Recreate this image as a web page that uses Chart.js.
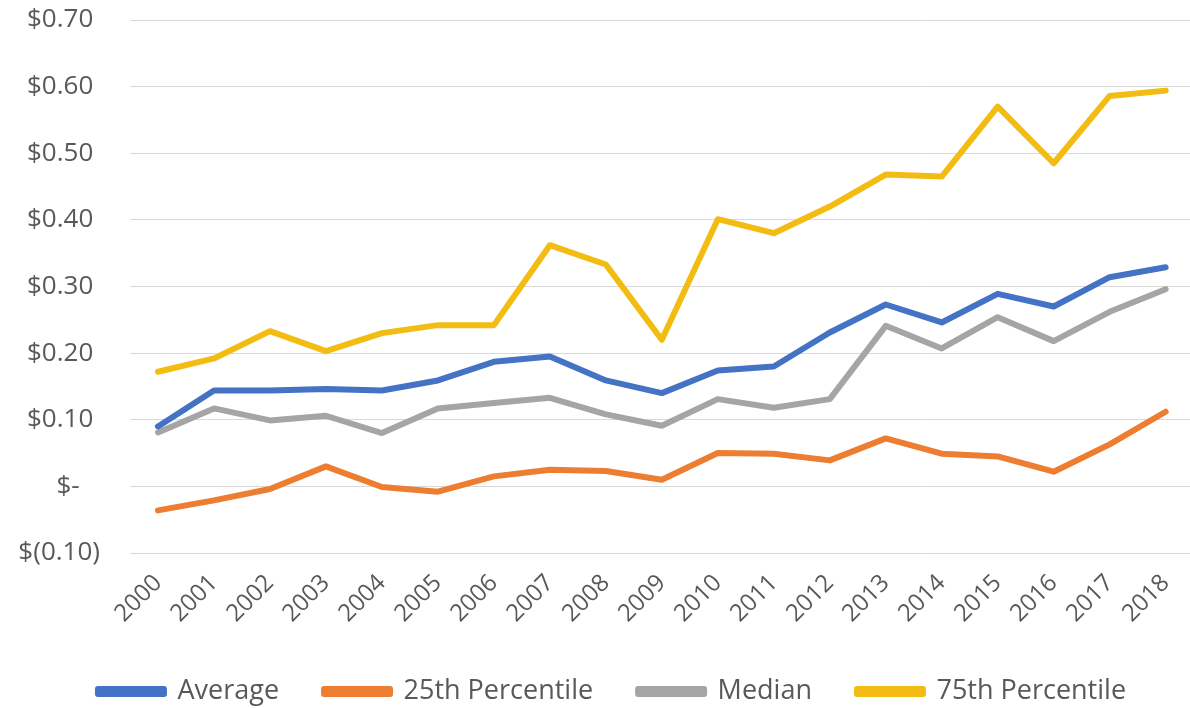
<!DOCTYPE html>
<html>
<head>
<meta charset="utf-8">
<script src="https://cdn.jsdelivr.net/npm/chart.js@4"></script>
<style>
  html, body { margin: 0; padding: 0; background: #fff; overflow: hidden; }
  #wrap { width: 1190px; height: 708px; overflow: hidden; }
  #box  { width: 1194px; height: 708px; position: relative; }
</style>
</head>
<body>
<div id="wrap"><div id="box"><canvas id="priceChart"></canvas></div></div>
<script>
/* ── data ───────────────────────────────────────────────────── */
const years = ["2000", "2001", "2002", "2003", "2004", "2005", "2006", "2007", "2008", "2009",
               "2010", "2011", "2012", "2013", "2014", "2015", "2016", "2017", "2018"];

const average = [0.090, 0.144, 0.144, 0.146, 0.144, 0.159, 0.187, 0.195, 0.159, 0.140,
                 0.174, 0.180, 0.231, 0.273, 0.246, 0.289, 0.270, 0.314, 0.329];
const pct25   = [-0.036, -0.021, -0.004, 0.030, -0.001, -0.008, 0.015, 0.025, 0.023, 0.010,
                 0.050, 0.049, 0.039, 0.072, 0.049, 0.045, 0.022, 0.063, 0.112];
const median  = [0.081, 0.117, 0.099, 0.106, 0.080, 0.117, 0.125, 0.133, 0.108, 0.091,
                 0.131, 0.118, 0.131, 0.241, 0.207, 0.254, 0.218, 0.262, 0.296];
const pct75   = [0.172, 0.192, 0.233, 0.203, 0.230, 0.242, 0.242, 0.362, 0.333, 0.220,
                 0.401, 0.380, 0.420, 0.468, 0.465, 0.570, 0.485, 0.586, 0.594];

const yMin = -0.10, yMax = 0.70, yStep = 0.10;

/* ── accounting-style money labels ─────────────────────────── */
function money(v) {
    if (Math.abs(v) < 1e-9) return "$-   ";
    if (v < 0) return "$(" + Math.abs(v).toFixed(2) + ")";
    return "$" + v.toFixed(2) + " ";
}

const font  = "'Open Sans', 'Noto Sans', sans-serif";
const ink   = "#595959";

function series(label, data, color) {
    return {
        label, data,
        borderColor: color,
        backgroundColor: color,
        borderWidth: 6,
        borderCapStyle: "round",
        borderJoinStyle: "round",
        pointRadius: 0,
        tension: 0,
        fill: false
    };
}

// legend sits a little right of the canvas centre
const legendNudge = {
    id: "legendNudge",
    afterLayout(chart) {
        if (!chart.legend) return;
        chart.legend.left  += 15;
        chart.legend.right += 15;
    }
};

new Chart(document.getElementById("priceChart"), {
    type: "line",
    data: {
        labels: years,
        datasets: [
            series("Average",         average, "#4472C4"),
            series("25th Percentile", pct25,   "#ED7D31"),
            series("Median",          median,  "#A5A5A5"),
            series("75th Percentile", pct75,   "#F2BC12")
        ]
    },
    plugins: [legendNudge],
    options: {
        responsive: true,
        maintainAspectRatio: false,
        animation: false,
        layout: { padding: { left: 0, right: 0, top: 20, bottom: -7 } },
        plugins: {
            tooltip: { enabled: false },
            legend: {
                position: "bottom",
                labels: {
                    boxWidth: 66,
                    boxHeight: 5,
                    padding: 45,
                    color: ink,
                    font: { family: font, size: 27 }
                }
            }
        },
        scales: {
            x: {
                offset: true,
                grid: { display: false },
                border: { display: false },
                ticks: {
                    color: ink,
                    font: { family: font, size: 24 },
                    minRotation: 45,
                    maxRotation: 45,
                    autoSkip: false,
                    padding: 8
                },
                afterFit: s => { s.height = 80; }
            },
            y: {
                min: yMin,
                max: yMax,
                grid: { color: "#D9D9D9", lineWidth: 1, drawTicks: false },
                border: { display: false },
                ticks: {
                    stepSize: yStep,
                    color: ink,
                    font: { family: font, size: 26 },
                    padding: 30,
                    callback: v => money(v)
                },
                // fixed gutter; top label may overhang the plot edge
                afterFit: s => { s.width = 130; s.paddingTop = 0; s.paddingBottom = 0; }
            }
        }
    }
});
</script>
</body>
</html>
